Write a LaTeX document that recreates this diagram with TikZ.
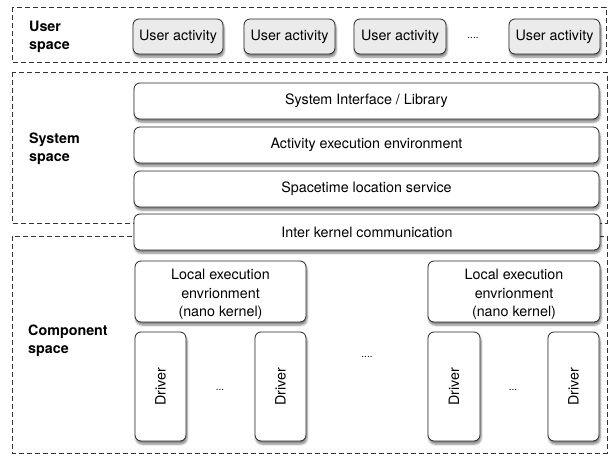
\documentclass[tikz,border=0pt]{standalone}
\usepackage{fontspec}
\setmainfont{TeX Gyre Heros}
\usetikzlibrary{shadows.blur}
\newcommand{\nanokernel}{\raisebox{-3pt}[\height][\depth]{\begin{tabular}{@{}c@{}}Local execution\\envrionment\\(nano kernel)\end{tabular}}}
\begin{document}
\begin{tikzpicture}[x=1pt,y=-1pt,
  font=\fontsize{14.3}{17}\selectfont,
  region/.style={draw=black!80, dashed, dash pattern=on 5pt off 3pt, line width=0.9pt},
  regionlabel/.style={anchor=north west, align=left, font=\fontsize{14.3}{18}\selectfont\bfseries, inner sep=0pt},
  layer/.style={draw=black!85, line width=0.8pt, rounded corners=6pt, fill=white,
    blur shadow={shadow xshift=1pt, shadow yshift=-3pt, shadow blur steps=6, shadow opacity=50},
    minimum width=#1, inner sep=2pt},
  activity/.style={layer=90pt, fill=black!8, minimum height=35pt},
  kernelbox/.style={layer=#1, minimum height=61pt, font=\fontsize{14.3}{18.5}\selectfont},
  dots/.style={font=\fontsize{10}{10}\selectfont, inner sep=0pt}
]
\useasboundingbox (0,0) rectangle (611,464);

% address-space regions
\draw[region] (12,7) rectangle (606,62);
\draw[region] (12,72) rectangle (607,223);
\draw[region] (12,236) rectangle (607,453);

\node[regionlabel] (lu) at (29,20.5) {User\\space};
\node[regionlabel] (ls) at (29,133) {System\\space};
\node[regionlabel] (lc) at (28,325) {Component\\space};

% user activities
\node[activity] (u1) at (178,36.5) {User activity};
\node[activity, minimum width=91pt] (u2) at (289.5,36.5) {User activity};
\node[activity, minimum width=92pt] (u3) at (400,36.5) {User activity};
\node[activity, minimum width=91pt] (u4) at (554.5,36.5) {User activity};
\node[dots] (ud) at (473,38) {....};

% system layers
\node[layer=465pt, minimum height=36pt] (sil) at (366.5,101) {System Interface / Library};
\node[layer=465pt, minimum height=36pt] (aee) at (366.5,145) {Activity execution environment};
\node[layer=465pt, minimum height=36pt] (sls) at (366.5,189) {Spacetime location service};
\node[layer=466pt, minimum height=36pt] (ikc) at (367,232) {Inter kernel communication};

% nano kernels
\node[kernelbox=171pt] (le1) at (220.5,291.5) {\nanokernel};
\node[kernelbox=172pt] (le2) at (514,291.5) {\nanokernel};
\node[dots] (md) at (367,357) {....};

% drivers
\node[layer=51pt, minimum height=109pt] (d1) at (160.5,386.5) {\rotatebox{90}{Driver}};
\node[layer=51pt, minimum height=109pt] (d2) at (280.5,386.5) {\rotatebox{90}{Driver}};
\node[layer=52pt, minimum height=109pt] (d3) at (454,386.5) {\rotatebox{90}{Driver}};
\node[layer=51pt, minimum height=109pt] (d4) at (573.5,386.5) {\rotatebox{90}{Driver}};
\node[dots] (dd1) at (220,390) {...};
\node[dots] (dd2) at (513,390) {...};
\end{tikzpicture}
\end{document}
